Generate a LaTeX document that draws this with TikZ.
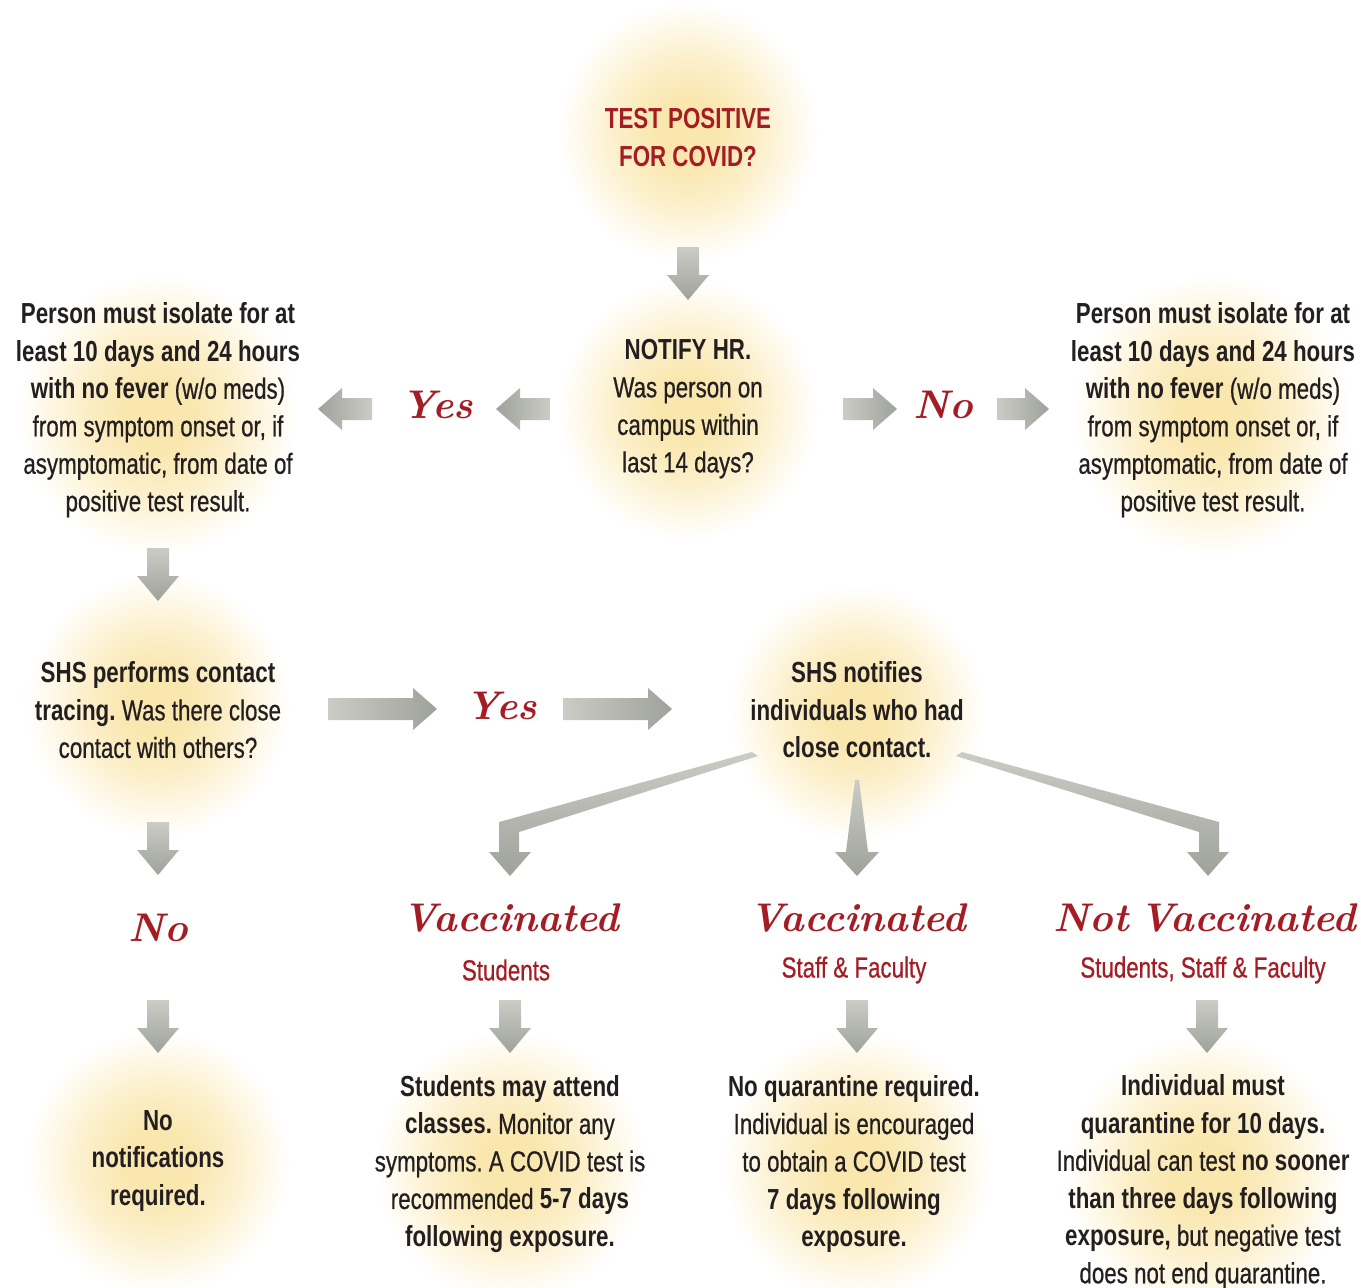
\documentclass[tikz,border=0pt]{standalone}
\usepackage{fontspec}
\setmainfont[FakeStretch=0.77,UprightFeatures={FakeBold=0.6}]{Liberation Sans}
\newfontfamily\brushfont{Latin Modern Roman}
\frenchspacing

\definecolor{inkc}{HTML}{231F20}
\definecolor{redc}{HTML}{A51D24}
\definecolor{glowc}{HTML}{FAE7AE}
\definecolor{arrlight}{HTML}{CBCCC6}
\definecolor{arrdark}{HTML}{9FA19B}
\pgfdeclareradialshading{glow}{\pgfpoint{0bp}{0bp}}{color(0bp)=(glowc);color(6bp)=(glowc);color(14bp)=(glowc!65!white);color(25bp)=(white);color(50bp)=(white)}

\tikzset{
  txt/.style={align=center,inner sep=0pt,text=inkc,font=\fontsize{29}{37.5}\selectfont},
  ttl/.style={txt,text=redc,font=\fontsize{29}{38}\selectfont\bfseries},
  brush/.style={inner sep=0pt,text=redc,font=\brushfont\bfseries\itshape\fontsize{40}{40}\selectfont},
  grp/.style={inner sep=0pt,text=redc,font=\fontsize{29}{37.5}\selectfont},
}
\newcommand{\glow}[3]{\shade[shading=glow](#1,#2) circle (#3pt);}
\newcommand{\arrdown}[3]{\shade[top color=arrlight,bottom color=arrdark]
  (#1-11,#2)--(#1+11,#2)--(#1+11,#3-25)--(#1+21,#3-25)--(#1,#3)--(#1-21,#3-25)--(#1-11,#3-25)--cycle;}
\newcommand{\arrleft}[3]{\shade[left color=arrdark,right color=arrlight]
  (#2,#1-11)--(#3+24,#1-11)--(#3+24,#1-21)--(#3,#1)--(#3+24,#1+21)--(#3+24,#1+11)--(#2,#1+11)--cycle;}
\newcommand{\arrright}[3]{\shade[left color=arrlight,right color=arrdark]
  (#2,#1-11)--(#3-24,#1-11)--(#3-24,#1-21)--(#3,#1)--(#3-24,#1+21)--(#3-24,#1+11)--(#2,#1+11)--cycle;}

\begin{document}
\begin{tikzpicture}[x=1pt,y=-1pt]
    \fill[white](0,0) rectangle (1361,1288);
    \useasboundingbox (0,0) rectangle (1361,1288);
    \glow{688}{132}{130}
    \glow{688}{410}{130}
    \glow{158}{415}{140}
    \glow{1212}{415}{140}
    \glow{158}{705}{132}
    \glow{857}{712}{128}
    \glow{158}{1162}{132}
    \glow{510}{1166}{135}
    \glow{857}{1166}{135}
    \glow{1205}{1175}{140}

    \arrdown{688}{247}{300}
    \arrleft{409}{372}{318}
    \arrleft{409}{550}{496}
    \arrright{409}{843}{897}
    \arrright{409}{997}{1049}
    \arrdown{158}{548}{601}
    \arrright{709}{328}{437}
    \arrright{709}{563}{672}
    \arrdown{158}{822}{875}
    \shade[top color=arrlight,bottom color=arrdark](752,752)--(758,756)--(519,832)--(519,852)--(531,852)--(510,876)--(489,852)--(499,852)--(499,822)--cycle;
    \shade[top color=arrlight,bottom color=arrdark](855,780)--(859,780)--(868,852)--(879,852)--(857,876)--(835,852)--(846,852)--cycle;
    \shade[top color=arrlight,bottom color=arrdark](962,752)--(956,756)--(1199,832)--(1199,852)--(1187,852)--(1208,876)--(1229,852)--(1219,852)--(1219,822)--cycle;
    \arrdown{158}{1000}{1053}
    \arrdown{510}{1000}{1053}
    \arrdown{857}{1000}{1053}
    \arrdown{1207}{1000}{1053}

    \node[ttl](test)at(688,138){TEST POSITIVE\\FOR COVID?};
    \node[txt](notify)at(688,409){\textbf{NOTIFY HR.}\\Was person on\\campus within\\last 14 days?};
    \node[txt](isoL)at(158,410){\textbf{Person must isolate for at}\\\textbf{least 10 days and 24 hours}\\\textbf{with no fever} (w/o meds)\\from symptom onset or, if\\asymptomatic, from date of\\positive test result.};
    \node[txt](isoR)at(1213,410){\textbf{Person must isolate for at}\\\textbf{least 10 days and 24 hours}\\\textbf{with no fever} (w/o meds)\\from symptom onset or, if\\asymptomatic, from date of\\positive test result.};
    \node[brush](yesL)at(437,405){Yes};
    \node[brush](noR)at(943,405){No};
    \node[txt](trace)at(158,710){\textbf{SHS performs contact}\\\textbf{tracing.} Was there close\\contact with others?};
    \node[brush](yesT)at(501,706){Yes};
    \node[txt](notifies)at(857,710){\textbf{SHS notifies}\\\textbf{individuals who had}\\\textbf{close contact.}};
    \node[brush](noT)at(158,928){No};
    \node[brush](vacS)at(511,918){Vaccinated};
    \node[grp](grpS)at(506,970){Students};
    \node[brush](vacF)at(858,918){Vaccinated};
    \node[grp](grpF)at(854,970){Staff \& Faculty};
    \node[brush](nvac)at(1205,918){Not\hspace{-0.15em} Vaccinated};
    \node[grp](grpN)at(1203,970){Students, Staff \& Faculty};
    \node[txt](resN)at(158,1161){\textbf{No}\\\textbf{notifications}\\\textbf{required.}};
    \node[txt](resS)at(510,1164){\textbf{Students may attend}\\\textbf{classes.} Monitor any\\symptoms. A COVID test is\\recommended \textbf{5-7 days}\\\textbf{following exposure.}};
    \node[txt](resF)at(854,1164){\textbf{No quarantine required.}\\Individual is encouraged\\to obtain a COVID test\\\textbf{7 days following}\\\textbf{exposure.}};
    \node[txt](resU)at(1203,1182){\textbf{Individual must}\\\textbf{quarantine for 10 days.}\\Individual can test \textbf{no sooner}\\\textbf{than three days following}\\\textbf{exposure,} but negative test\\does not end quarantine.};
\end{tikzpicture}
\end{document}
